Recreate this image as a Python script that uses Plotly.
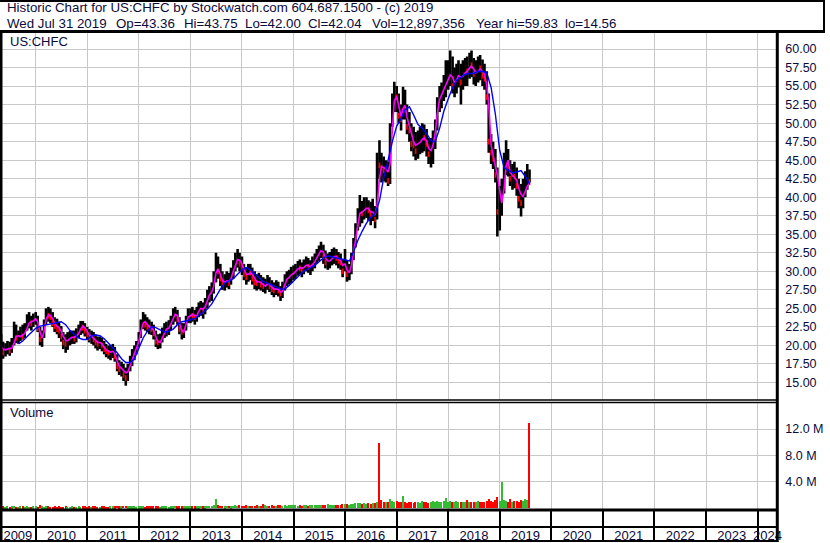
import pandas as pd
import plotly.graph_objects as go

# ---------------- data ----------------
dates = list(pd.date_range("2009-05-01", "2019-07-15", freq="SMS").strftime("%Y-%m-%d")) + ["2019-07-31"]

price_high = [
    # 2009 (May-Dec)
    21.5, 20.5, 20.3, 20.6, 20.5, 21.0, 23.2, 22.8, 22.0, 22.5, 22.8, 23.0, 24.2, 24.5, 24.0, 24.3,
    # 2010
    24.5, 24.0, 22.5, 22.0, 23.5, 25.0, 25.2, 25.0, 24.5, 23.8, 23.6, 23.2, 22.6, 21.8, 21.5, 21.8, 22.0, 22.0, 22.0, 22.3, 22.8, 23.3, 23.3, 23.0,
    # 2011
    22.5, 22.2, 22.0, 21.8, 21.5, 21.2, 21.2, 21.0, 20.6, 20.2, 20.0, 20.0, 20.2, 19.8, 18.8, 18.0, 17.8, 17.5, 17.0, 17.5, 18.6, 19.5, 20.0, 20.6,
    # 2012
    21.8, 23.5, 24.5, 24.2, 23.8, 23.5, 23.2, 22.8, 22.0, 21.5, 21.6, 22.4, 23.0, 23.2, 23.4, 24.0, 25.0, 25.2, 24.8, 23.8, 23.0, 23.0, 24.0, 25.0,
    # 2013
    25.0, 25.2, 24.8, 25.2, 25.8, 26.0, 25.8, 26.4, 27.5, 28.0, 28.5, 30.0, 32.5, 32.0, 31.0, 30.0, 29.6, 30.0, 29.8, 30.5, 31.5, 32.5, 33.0, 32.5,
    # 2014
    32.0, 31.0, 30.5, 31.0, 31.0, 30.5, 30.0, 29.6, 29.8, 29.5, 29.2, 29.0, 29.5, 29.2, 28.8, 28.5, 28.8, 28.6, 28.0, 28.6, 29.6, 30.0, 30.2, 30.6,
    # 2015
    30.8, 31.0, 31.4, 31.6, 31.2, 31.6, 32.0, 31.8, 31.5, 32.0, 32.4, 33.0, 33.5, 34.0, 33.6, 32.8, 32.4, 32.6, 33.0, 33.2, 33.0, 32.6, 32.4, 31.6,
    # 2016
    33.0, 31.5, 31.0, 32.5, 34.5, 36.5, 38.5, 40.3, 39.5, 40.0, 40.0, 39.6, 39.4, 39.8, 38.8, 46.0, 47.7, 46.0, 45.5, 45.0, 44.8, 50.0, 54.0, 55.6,
    # 2017
    55.0, 54.0, 52.5, 54.9, 54.5, 52.5, 51.5, 50.0, 49.5, 48.8, 49.0, 49.5, 50.0, 49.8, 49.2, 48.0, 48.0, 49.0, 50.5, 53.5, 55.0, 55.5, 56.5, 58.5,
    # 2018
    58.5, 59.8, 59.0, 57.5, 58.0, 58.5, 58.0, 58.5, 58.8, 59.0, 59.5, 59.8, 58.8, 58.5, 59.0, 59.2, 58.6, 58.0, 57.0, 54.0, 48.5, 47.5, 46.5, 44.0,
    # 2019 (Jan-Jul)
    41.5, 42.5, 46.0, 47.7, 46.5, 45.0, 44.5, 44.8, 44.0, 42.5, 41.8, 42.5, 43.5, 44.5, 43.75,
]
price_low = [
    18.5, 18.2, 18.5, 18.8, 18.6, 19.0, 20.0, 20.3, 20.2, 20.6, 20.8, 21.0, 22.0, 22.3, 22.0, 22.5,
    22.8, 21.8, 20.0, 19.8, 21.0, 22.8, 23.2, 23.0, 22.5, 21.8, 21.5, 21.0, 20.5, 19.5, 19.0, 19.4, 20.0, 20.2, 20.2, 20.4, 21.0, 21.4, 21.6, 21.2,
    20.8, 20.4, 20.2, 20.0, 19.6, 19.3, 19.5, 19.2, 18.8, 18.4, 18.2, 18.0, 18.3, 17.8, 16.5, 16.0, 15.8, 15.2, 14.56, 15.2, 16.5, 17.2, 18.0, 18.8,
    19.8, 21.0, 22.2, 22.0, 21.8, 21.5, 21.4, 20.8, 19.8, 19.5, 19.6, 20.4, 21.0, 21.2, 21.4, 22.0, 22.8, 23.2, 22.8, 21.5, 20.8, 21.0, 22.0, 23.0,
    23.0, 23.2, 22.8, 23.2, 23.8, 24.0, 23.6, 24.2, 25.0, 25.8, 26.0, 27.0, 28.5, 29.0, 28.0, 27.5, 27.4, 27.8, 27.6, 28.2, 29.0, 30.0, 30.5, 30.0,
    29.5, 28.8, 28.2, 28.6, 28.8, 28.2, 27.6, 27.4, 27.6, 27.4, 27.2, 27.0, 27.5, 27.2, 26.8, 26.5, 26.8, 26.6, 26.0, 26.4, 27.4, 28.0, 28.2, 28.4,
    28.8, 29.0, 29.4, 29.6, 29.2, 29.6, 30.0, 29.8, 29.5, 30.0, 30.4, 31.0, 31.4, 31.8, 31.0, 30.4, 30.2, 30.4, 30.8, 31.0, 30.8, 30.4, 30.2, 29.2,
    30.0, 28.6, 28.8, 29.6, 31.5, 33.2, 35.5, 36.0, 36.5, 37.0, 37.2, 36.8, 36.2, 36.8, 35.8, 37.0, 42.5, 42.0, 42.2, 42.0, 41.5, 41.8, 49.5, 51.5,
    51.5, 50.0, 49.0, 50.5, 50.5, 48.5, 47.5, 46.2, 45.5, 45.0, 45.2, 45.8, 46.0, 46.2, 45.5, 44.5, 44.0, 44.5, 46.5, 49.0, 51.5, 52.0, 53.0, 53.5,
    54.5, 55.0, 54.0, 53.5, 54.0, 54.8, 52.5, 54.5, 55.0, 55.0, 56.0, 56.2, 55.2, 55.0, 55.5, 55.8, 55.0, 54.5, 52.5, 46.0, 44.5, 43.8, 42.0, 34.7,
    35.5, 37.5, 40.5, 43.0, 42.8, 41.5, 41.0, 41.2, 40.2, 38.5, 37.4, 38.5, 40.0, 41.0, 42.0,
]
price_close = [
    19.8, 19.0, 19.5, 19.7, 19.3, 20.2, 22.0, 21.0, 21.3, 21.8, 21.2, 22.3, 23.2, 23.6, 23.0, 23.5,
    23.5, 22.3, 20.8, 21.0, 22.8, 24.2, 24.0, 23.8, 23.0, 22.6, 22.2, 22.0, 21.2, 20.4, 20.2, 20.8, 21.0, 21.3, 20.9, 21.4, 22.0, 22.6, 22.4, 22.0,
    21.5, 21.0, 21.2, 20.8, 20.4, 20.2, 20.5, 20.0, 19.5, 19.2, 19.0, 19.1, 19.3, 18.5, 17.2, 16.8, 17.0, 16.0, 15.6, 16.8, 17.8, 18.5, 19.3, 19.8,
    21.0, 22.6, 23.4, 22.8, 22.5, 22.4, 22.2, 21.6, 20.5, 20.4, 20.8, 21.6, 22.2, 22.4, 22.6, 23.2, 24.0, 24.3, 23.5, 22.2, 21.8, 22.4, 23.4, 24.2,
    24.2, 24.0, 23.8, 24.4, 25.0, 25.0, 24.6, 25.6, 26.5, 27.0, 27.4, 29.0, 30.8, 30.0, 29.0, 28.4, 28.6, 28.8, 28.4, 29.6, 30.4, 31.5, 32.0, 31.0,
    30.5, 29.6, 29.2, 30.0, 29.8, 29.0, 28.5, 28.4, 28.8, 28.2, 28.0, 28.2, 28.6, 28.0, 27.6, 27.4, 27.8, 27.4, 27.0, 27.8, 28.8, 29.2, 29.4, 29.8,
    29.8, 30.2, 30.6, 30.4, 30.2, 30.8, 31.0, 30.6, 30.6, 31.2, 31.6, 32.2, 32.6, 33.0, 32.0, 31.2, 31.4, 31.6, 32.0, 32.2, 31.8, 31.4, 31.2, 30.0,
    31.0, 29.6, 30.2, 31.8, 33.5, 35.5, 37.2, 38.4, 37.8, 38.6, 38.8, 38.2, 37.6, 38.4, 37.0, 45.2, 44.3, 44.0, 43.6, 43.8, 42.2, 48.5, 52.5, 54.0,
    53.5, 51.0, 50.5, 53.0, 52.0, 49.5, 49.0, 47.2, 47.0, 46.2, 47.5, 47.8, 48.4, 48.0, 47.2, 45.8, 46.5, 47.8, 49.5, 52.0, 53.5, 53.8, 54.8, 55.5,
    56.0, 57.5, 55.0, 55.5, 56.2, 56.8, 55.5, 57.0, 57.2, 57.0, 58.0, 57.8, 56.6, 56.8, 57.5, 57.4, 56.4, 56.0, 53.5, 47.5, 46.0, 45.2, 43.0, 38.0,
    39.5, 40.8, 44.5, 45.5, 44.2, 42.5, 43.0, 42.8, 41.5, 39.8, 39.2, 40.8, 42.0, 43.4, 42.04,
]
ma_fast = [
    19.8, 19.5, 19.4, 19.5, 19.6, 19.6, 20.3, 21.2, 21.3, 21.2, 21.4, 21.6, 22.3, 23.0, 23.2, 23.3,
    23.6, 23.2, 21.8, 21.0, 21.8, 23.5, 24.1, 24.0, 23.6, 23.0, 22.6, 22.4, 21.9, 21.2, 20.7, 20.6, 20.9, 21.1, 21.1, 21.2, 21.6, 22.2, 22.6, 22.4,
    21.9, 21.4, 21.2, 21.0, 20.7, 20.4, 20.4, 20.2, 19.8, 19.4, 19.2, 19.1, 19.2, 18.9, 17.9, 17.2, 16.9, 16.6, 16.3, 16.4, 17.2, 18.0, 18.9, 19.6,
    20.5, 21.8, 23.0, 23.2, 22.8, 22.5, 22.4, 22.0, 21.2, 20.5, 20.4, 21.0, 21.8, 22.2, 22.3, 22.8, 23.6, 24.2, 24.0, 23.0, 22.0, 21.8, 22.8, 23.8,
    24.0, 24.2, 24.0, 24.0, 24.6, 25.0, 24.9, 25.2, 26.0, 26.8, 27.2, 28.0, 29.8, 30.3, 29.6, 28.8, 28.5, 28.7, 28.6, 29.0, 30.0, 30.9, 31.6, 31.5,
    31.0, 30.3, 29.6, 29.6, 29.8, 29.6, 29.0, 28.6, 28.6, 28.5, 28.2, 28.0, 28.3, 28.3, 27.9, 27.6, 27.6, 27.6, 27.2, 27.3, 28.2, 28.9, 29.2, 29.5,
    29.7, 30.0, 30.3, 30.5, 30.4, 30.5, 30.8, 30.8, 30.6, 30.9, 31.3, 31.8, 32.3, 32.8, 32.6, 31.8, 31.4, 31.4, 31.7, 32.0, 32.0, 31.7, 31.4, 30.8,
    31.0, 30.2, 29.8, 30.8, 32.6, 34.5, 36.6, 37.8, 38.0, 38.2, 38.5, 38.5, 38.0, 38.0, 37.6, 39.0, 42.5, 44.1, 44.0, 43.8, 43.4, 44.5, 50.0, 53.0,
    53.6, 52.2, 50.9, 52.0, 52.4, 50.8, 49.6, 48.4, 47.5, 47.0, 47.2, 47.4, 47.8, 48.0, 47.6, 46.6, 46.3, 47.0, 48.6, 51.2, 53.2, 53.8, 54.5, 55.3,
    55.8, 56.5, 56.2, 55.4, 55.8, 56.4, 56.2, 56.3, 56.8, 57.0, 57.4, 57.7, 57.3, 56.8, 57.0, 57.3, 57.0, 56.6, 55.2, 52.5, 47.0, 45.5, 44.2, 43.0,
    40.5, 39.2, 41.2, 44.2, 45.0, 43.4, 42.9, 42.7, 42.3, 41.2, 40.4, 40.1, 40.8, 41.5, 41.9,
]

slow_dates = list(pd.date_range("2009-09-01", "2019-07-01", freq="MS").strftime("%Y-%m-%d")) + ["2019-07-31"]
ma_slow = [
    20.2, 20.6, 21.2, 21.8,
    22.3, 22.6, 22.7, 22.8, 22.9, 23.0, 23.2, 22.8, 22.0, 21.5, 21.0, 20.8,
    20.8, 21.3, 21.4, 21.3, 20.9, 20.3, 19.7, 19.0, 18.2, 17.7, 17.7, 18.2,
    19.6, 21.0, 21.9, 22.5, 22.4, 22.1, 21.8, 21.9, 22.2, 22.8, 23.2, 23.3,
    23.4, 23.6, 24.0, 24.4, 24.9, 25.6, 26.6, 27.6, 28.4, 28.7, 29.0, 29.6,
    30.2, 30.5, 30.2, 29.7, 29.1, 28.6, 28.4, 28.2, 27.9, 27.6, 27.6, 28.1,
    28.7, 29.3, 29.8, 30.2, 30.5, 30.8, 31.3, 31.8, 32.1, 31.9, 31.8, 31.7,
    31.6, 31.4, 32.6, 34.2, 35.4, 36.5, 37.3, 37.8, 39.5, 42.6, 45.0, 47.5,
    49.6, 50.6, 51.8, 52.2, 51.1, 49.8, 49.3, 48.6, 47.6, 47.5, 49.3, 51.6,
    53.3, 54.8, 55.8, 56.2, 56.6, 56.7, 56.7, 57.0, 57.0, 56.8, 54.8, 51.2,
    46.3, 44.0, 43.7, 43.3, 43.4, 43.6, 42.8, 41.8,
]

volume_m = [
    0.22, 0.30, 0.18, 0.25, 0.20, 0.28, 0.35, 0.20, 0.18, 0.24, 0.30, 0.20, 0.26, 0.22, 0.18, 0.25,
    0.30, 0.22, 0.45, 0.28, 0.20, 0.24, 0.30, 0.18, 0.22, 0.26, 0.20, 0.24, 0.18, 0.22, 0.26, 0.20, 0.18, 0.24, 0.22, 0.20, 0.26, 0.22, 0.30, 0.24,
    0.22, 0.26, 0.20, 0.24, 0.30, 0.22, 0.20, 0.26, 0.24, 0.22, 0.20, 0.26, 0.28, 0.24, 0.35, 0.30, 0.28, 0.32, 0.38, 0.30, 0.26, 0.24, 0.28, 0.22,
    0.26, 0.30, 0.24, 0.22, 0.28, 0.24, 0.30, 0.26, 0.28, 0.24, 0.22, 0.26, 0.30, 0.24, 0.22, 0.28, 0.26, 0.32, 0.28, 0.24, 0.26, 0.30, 0.28, 0.25,
    0.28, 0.24, 0.30, 0.26, 0.28, 0.32, 0.30, 0.26, 0.34, 0.38, 0.36, 0.40, 1.30, 0.45, 0.38, 0.32, 0.30, 0.36, 0.34, 0.30, 0.38, 0.42, 0.36, 0.40,
    0.38, 0.34, 0.40, 0.36, 0.32, 0.38, 0.34, 0.40, 0.36, 0.38, 0.60, 0.42, 0.36, 0.34, 0.40, 0.38, 0.36, 0.42, 0.44, 0.38, 0.40, 0.36, 0.42, 0.48,
    0.40, 0.44, 0.38, 0.42, 0.36, 0.40, 0.44, 0.38, 0.42, 0.46, 0.40, 0.44, 0.48, 0.42, 0.40, 0.46, 0.60, 0.44, 0.50, 0.46, 0.42, 0.48, 0.52, 0.56,
    0.60, 0.55, 0.50, 0.56, 0.62, 0.70, 0.80, 0.75, 0.66, 0.72, 0.68, 0.74, 0.66, 0.70, 0.78, 0.90, 9.85, 1.20, 0.85, 0.90, 0.95, 1.40, 1.10, 0.95,
    1.00, 0.90, 0.85, 1.90, 0.95, 0.80, 0.90, 0.85, 0.80, 0.95, 0.88, 0.82, 1.05, 0.90, 0.85, 0.80, 0.95, 1.10, 0.90, 1.00, 0.88, 0.92, 1.00, 1.50,
    0.95, 1.10, 0.90, 0.85, 1.00, 0.92, 0.88, 0.95, 0.90, 1.20, 0.85, 0.92, 0.88, 0.95, 1.05, 0.90, 0.85, 0.92, 1.10, 1.30, 1.00, 0.95, 1.20, 1.60,
    1.10, 4.00, 1.20, 1.00, 0.95, 1.30, 0.90, 1.00, 1.10, 0.95, 1.20, 1.05, 1.40, 1.20, 12.90,
]

price_ticks = [15.0, 17.5, 20.0, 22.5, 25.0, 27.5, 30.0, 32.5, 35.0, 37.5, 40.0, 42.5, 45.0, 47.5, 50.0, 52.5, 55.0, 57.5, 60.0]
volume_ticks = [4.0, 8.0, 12.0]
volume_tick_text = ["4.0 M", "8.0 M", "12.0 M"]
years = list(range(2009, 2025))

symbol = "US:CHFC"
quote_date = "Wed Jul 31 2019"
q_open, q_high, q_low, q_close = "43.36", "43.75", "42.00", "42.04"
q_vol = "12,897,356"
year_hi, year_lo = "59.83", "14.56"

assert len(dates) == len(price_high) == len(price_low) == len(price_close) == len(ma_fast) == len(volume_m)
assert len(slow_dates) == len(ma_slow)

# ---------------- layout helpers ----------------
W, H = 830, 543
FONT = "Liberation Sans, Arial, sans-serif"
TXT = "#0a0a3c"
GRID = "#c8c8c8"
X_RANGE = ["2009-04-23", "2024-05-20"]
PLOT_R = 782


def px(x):
    return x / W


def py(y):
    return 1 - y / H


t0, t1 = pd.Timestamp(X_RANGE[0]), pd.Timestamp(X_RANGE[1])
label_pos = []
for yr in years:
    a = max(pd.Timestamp(f"{yr}-01-01"), t0)
    b = min(pd.Timestamp(f"{yr + 1}-01-01"), t1)
    label_pos.append((a + (b - a) / 2).strftime("%Y-%m-%d %H:%M"))
year_starts = [f"{yr}-01-01" for yr in years[1:]]

fig = go.Figure()

# high-low bars
bx, by = [], []
for d, h, l in zip(dates, price_high, price_low):
    bx += [d, d, None]
    by += [l, h, None]
fig.add_trace(go.Scatter(x=bx, y=by, mode="lines", line=dict(color="black", width=2.6),
                         hoverinfo="skip", showlegend=False, xaxis="x", yaxis="y"))

# red close ticks on down periods
down = [i for i in range(1, len(price_close)) if price_close[i] < price_close[i - 1]]
fig.add_trace(go.Scatter(x=[dates[i] for i in down], y=[price_close[i] for i in down], mode="markers",
                         marker=dict(symbol="line-ns", size=4, line=dict(color="#ff0000", width=1.6)),
                         hoverinfo="skip", showlegend=False, xaxis="x", yaxis="y"))

fig.add_trace(go.Scatter(x=dates, y=ma_fast, mode="lines", line=dict(color="#ff00ff", width=1.6),
                         hoverinfo="skip", showlegend=False, xaxis="x", yaxis="y"))
fig.add_trace(go.Scatter(x=slow_dates, y=ma_slow, mode="lines", line=dict(color="#0000ff", width=1.4),
                         hoverinfo="skip", showlegend=False, xaxis="x", yaxis="y"))

vol_colors = ["#33bb33"] + ["#ff0000" if price_close[i] < price_close[i - 1] else "#33bb33"
                            for i in range(1, len(price_close))]
fig.add_trace(go.Bar(x=dates, y=volume_m, marker=dict(color=vol_colors, line=dict(width=0)),
                     width=9 * 24 * 3600 * 1000, hoverinfo="skip", showlegend=False,
                     xaxis="x2", yaxis="y2"))

x_dom = [0, PLOT_R / W]
fig.update_layout(
    width=W, height=H, autosize=False,
    margin=dict(l=0, r=0, t=0, b=0, pad=0),
    paper_bgcolor="white", plot_bgcolor="white",
    font=dict(family=FONT, color=TXT),
    showlegend=False, bargap=0,
    xaxis=dict(domain=x_dom, anchor="y", type="date", range=X_RANGE,
               showticklabels=False, showgrid=False, ticks="", zeroline=False, showline=False,
               tickmode="array", tickvals=label_pos,
               minor=dict(tickmode="array", tickvals=year_starts, showgrid=True, gridcolor=GRID, gridwidth=1)),
    xaxis2=dict(domain=x_dom, anchor="y2", type="date", range=X_RANGE, matches="x",
                showticklabels=True, showgrid=False, ticks="", zeroline=False, showline=False,
                tickmode="array", tickvals=label_pos, ticktext=[str(y) for y in years],
                ticklabelstandoff=16,
                tickfont=dict(family=FONT, size=13, color=TXT),
                minor=dict(tickmode="array", tickvals=year_starts, showgrid=True, gridcolor=GRID, gridwidth=1,
                           ticks="outside", ticklen=31, tickcolor="black", tickwidth=1.5)),
    yaxis=dict(domain=[py(400), py(32)], anchor="x", side="right", range=[12.63, 62.3],
               tickmode="array", tickvals=price_ticks, ticktext=[f"{v:.2f}" for v in price_ticks],
               showgrid=True, gridcolor=GRID, gridwidth=1, zeroline=False, showline=False, ticks="",
               ticklabelstandoff=7, tickfont=dict(family=FONT, size=12.5, color=TXT)),
    yaxis2=dict(domain=[py(510), py(402)], anchor="x2", side="right", range=[-0.3, 16.1],
                tickmode="array", tickvals=volume_ticks, ticktext=volume_tick_text,
                showgrid=True, gridcolor=GRID, gridwidth=1, zeroline=False, showline=False, ticks="",
                ticklabelstandoff=7, tickfont=dict(family=FONT, size=12.5, color=TXT)),
)

# ---------------- frame lines ----------------
def hline(y, x0, x1, w):
    return dict(type="line", xref="paper", yref="paper", x0=px(x0), x1=px(x1), y0=py(y), y1=py(y),
                line=dict(color="black", width=w), layer="above")


def vline(x, y0, y1, w):
    return dict(type="line", xref="paper", yref="paper", x0=px(x), x1=px(x), y0=py(y0), y1=py(y1),
                line=dict(color="black", width=w), layer="above")


shapes = [
    hline(1, 0, W, 2),
    hline(31.5, 0, W, 3),
    vline(829, 0, 32, 2),
    vline(1, 31, 542, 3),
    vline(PLOT_R, 31, 542, 3),
    hline(400, 0, PLOT_R, 1.5),
    hline(402.5, 0, PLOT_R, 1.5),
    hline(510, 0, PLOT_R, 3),
    hline(527, 0, PLOT_R, 2),
    hline(541, 0, PLOT_R, 2),
]
fig.update_layout(shapes=shapes)

# ---------------- texts ----------------
def label(text, x, y, size=13.3):
    return dict(text=text, xref="paper", yref="paper", x=px(x), y=py(y), xanchor="left", yanchor="middle",
                showarrow=False, font=dict(family=FONT, size=size, color=TXT))


annotations = [
    label(f"Historic Chart for {symbol} by Stockwatch.com 604.687.1500 - (c) 2019", 5, 8),
    label(quote_date, 5, 23),
    label(f"Op={q_open}", 115, 23),
    label(f"Hi={q_high}", 183, 23),
    label(f"Lo={q_low}", 244, 23),
    label(f"Cl={q_close}", 308, 23),
    label(f"Vol={q_vol}", 372, 23),
    label(f"Year hi={year_hi}", 477, 23),
    label(f"lo={year_lo}", 566, 23),
    label(symbol, 8, 41, 13),
    label("Volume", 8, 413, 13),
]
fig.update_layout(annotations=annotations)

fig.write_html("out.html", config={"displayModeBar": False},
               post_script="document.body.style.margin='0';document.body.style.overflow='hidden';")
